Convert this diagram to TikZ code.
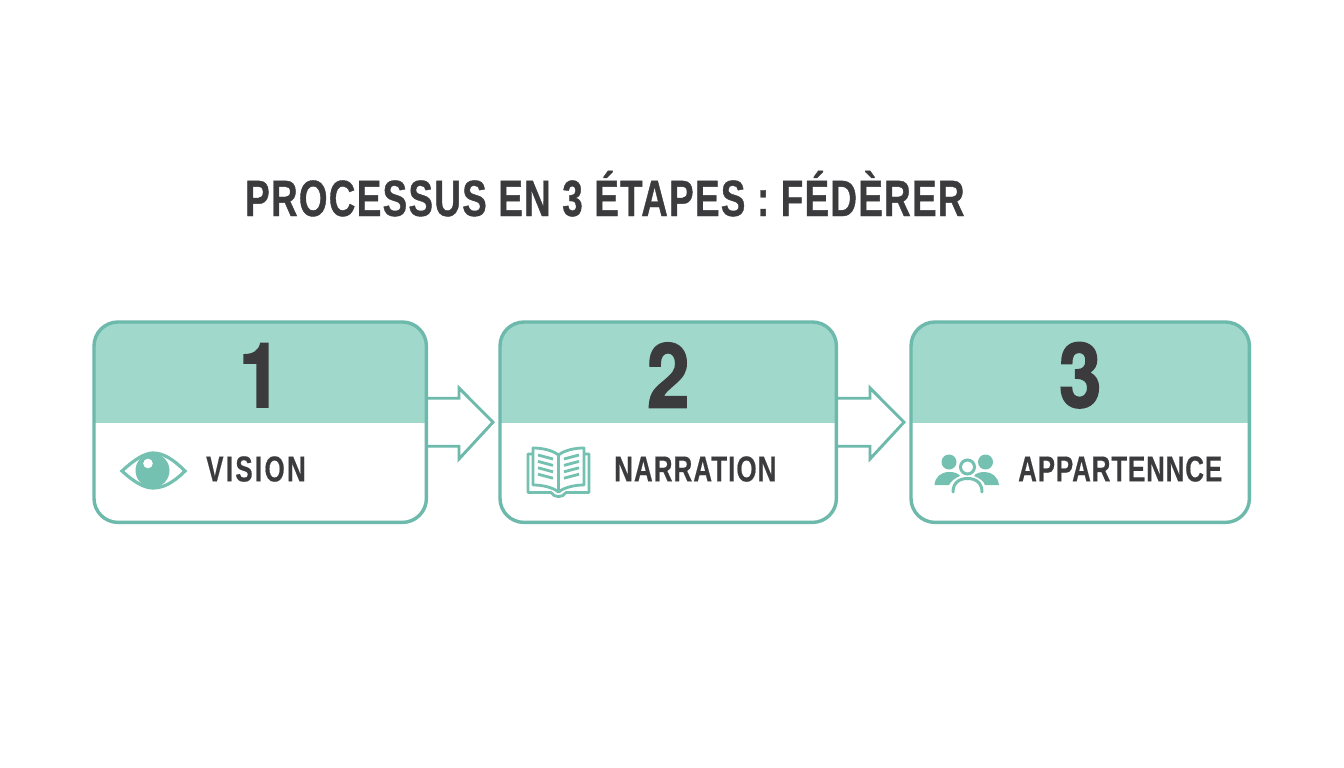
\documentclass[tikz,border=0pt]{standalone}
\usepackage{fontspec}
\setmainfont{Liberation Sans}
\newfontfamily\titlefont[FakeStretch=0.72,LetterSpace=2.7,FakeBold=0.8]{Liberation Sans Bold}
\newfontfamily\labelfont[FakeStretch=0.72,LetterSpace=3,FakeBold=0.5]{Liberation Sans Bold}
\newfontfamily\numfont[FakeStretch=0.85,FakeBold=1.5]{TeX Gyre Heros Bold}
\definecolor{tealline}{HTML}{6DB9AB}
\definecolor{tealhead}{HTML}{A0D9CC}
\definecolor{tealicon}{HTML}{74C1B1}
\definecolor{ink}{HTML}{3B3B3D}
\tikzset{
  boxbase/.style={minimum height=200pt,inner sep=0pt,fill=white,draw=none},
  numlabel/.style={font=\numfont\fontsize{90}{90}\selectfont,text=ink,inner sep=0pt,anchor=center},
  steplabel/.style={font=\labelfont\fontsize{36}{36}\selectfont,text=ink,inner sep=0pt,anchor=west},
  titlelabel/.style={font=\titlefont\fontsize{51}{51}\selectfont,text=ink,inner sep=0pt,anchor=base west},
  blockarrow/.style={draw=tealline,line width=2.9pt,line join=miter,fill=none},
  iconline/.style={draw=tealicon,line width=2.8pt,line cap=butt,line join=round},
  iconthin/.style={draw=tealicon,line width=3pt,line cap=round},
}
\newcommand{\stepbox}[4]{% name, left, right, number
  \node[boxbase,minimum width=#3pt-#2pt,anchor=north west] (#1) at (#2,322) {};
  \begin{scope}
    \clip[rounded corners=24pt] (#1.south west) rectangle (#1.north east);
    \fill[tealhead] (#1.north west) rectangle ([yshift=-1pt]#1.east);
  \end{scope}
  \draw[tealline,line width=3.4pt,rounded corners=24pt] (#1.south west) rectangle (#1.north east);
  \node[numlabel] (#1num) at ([yshift=47pt]#1.center) {#4};
}
\newcommand{\linkarrow}[3]{% from, to, head x
  \coordinate (#1tip) at ([xshift=-7pt]#2.west);
  \draw[blockarrow] ([yshift=24pt]#1.east) -| (#3,388) -- (#1tip) -- (#3,459) |- ([yshift=-24pt]#1.east);
}
\begin{document}
\begin{tikzpicture}[x=1pt,y=-1pt]
\useasboundingbox (0,0) rectangle (1344,768);
\fill[white] (0,0) rectangle (1344,768);
\node[titlelabel] (title) at (245,216) {PROCESSUS EN 3 ÉTAPES : FÉDÈRER};

\stepbox{boxa}{94}{426}{1}
\stepbox{boxb}{500}{836}{2}
\stepbox{boxc}{911}{1249}{3}

\linkarrow{boxa}{boxb}{459}
\linkarrow{boxb}{boxc}{870}

\node[steplabel] (labela) at (206,469) {\addfontfeature{LetterSpace=6.5}VISION};
\node[steplabel] (labelb) at (614,469) {NARRATION};
\node[steplabel] (labelc) at (1018,469) {\addfontfeature{LetterSpace=2.4}APPARTENNCE};

% eye icon
\draw[iconline,line width=3.2pt,line join=miter] (122,471) .. controls (135,459) and (145,453) .. (153,453) .. controls (163,453) and (173,459) .. (185,471) .. controls (173,483) and (163,488) .. (153,488) .. controls (145,488) and (135,483) .. (122,471) -- cycle;
\fill[tealicon] (152.5,470.5) circle (17);
\fill[white] (148,463.5) circle (4.8);

% book icon
\draw[iconline] (558.5,455) .. controls (552,450) and (542,448) .. (533,448) -- (533,485) .. controls (542,485) and (552,487) .. (558.5,492) .. controls (565,487) and (575,485) .. (584,485) -- (584,448) .. controls (575,448) and (565,450) .. (558.5,455) -- cycle (558.5,455) -- (558.5,492);
\draw[iconline] (533,454) -- (528,454) -- (528,492.5) -- (551,492.5) .. controls (554,498) and (563,498) .. (566,492.5) -- (589,492.5) -- (589,454) -- (584,454);
\foreach \y in {0,1,2,3}{
  \draw[iconline] (538,455+\y*6.4) -- (553,459+\y*6.4);
  \draw[iconline] (564,459+\y*6.4) -- (579,455+\y*6.4);
}

% people icon
\fill[tealicon] (949,462) circle (7.5);
\fill[tealicon] (985.5,462) circle (7.5);
\fill[tealicon] (934.5,485) .. controls (935,477) and (941,472) .. (949,472) .. controls (954,472) and (958,473) .. (960,476) .. controls (955,478) and (951,481) .. (949,485) -- cycle;
\fill[tealicon] (999,485) .. controls (998,477) and (992,472) .. (985,472) .. controls (980,472) and (976,473) .. (974,476) .. controls (979,478) and (984,481) .. (985,485) -- cycle;
\draw[iconthin] (967.5,467) circle (7);
\draw[iconthin] (953,492) .. controls (953,483) and (959,478.5) .. (967.5,478.5) .. controls (976,478.5) and (982,483) .. (982,492);
\end{tikzpicture}
\end{document}
